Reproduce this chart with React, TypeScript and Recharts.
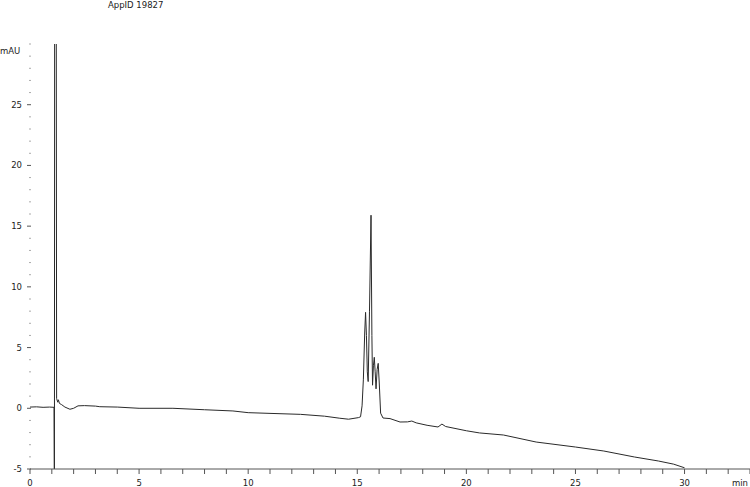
import React from 'react';
import { LineChart, Line, XAxis, YAxis } from 'recharts';

const title = 'AppID 19827';
const yUnit = 'mAU';
const xUnit = 'min';

const times = [
  0.0, 0.3, 0.6, 0.9, 1.1, 1.12, 1.13, 1.2, 1.22, 1.27, 1.3, 1.35, 1.45, 1.6, 1.83, 2.0, 2.2, 2.5, 3.0, 3.2,
  4.0, 5.0, 6.55, 8.0, 9.3, 10.0, 11.0, 12.4, 13.5, 14.2, 14.6, 15.05, 15.15, 15.22, 15.28, 15.34, 15.38,
  15.42, 15.46, 15.5, 15.56, 15.63, 15.67, 15.7, 15.74, 15.78, 15.82, 15.86, 15.91, 15.96, 16.01, 16.07,
  16.18, 16.5, 16.96, 17.3, 17.5, 17.7, 18.2, 18.7, 18.88, 19.05, 20.0, 20.6, 21.7, 23.2, 25.0, 26.3,
  27.7, 28.8, 29.5, 30.0,
];

const mAU = [
  0.1, 0.12, 0.08, 0.1, 0.08, -8, 40, 40, 0.8, 0.5, 0.7, 0.4, 0.3, 0.1, -0.08, 0.0, 0.2, 0.22, 0.18, 0.13,
  0.1, 0.0, 0.0, -0.12, -0.22, -0.36, -0.42, -0.5, -0.65, -0.82, -0.9, -0.77, -0.7, 0.2, 2.4, 6.2, 7.9,
  6.0, 3.0, 2.2, 8.0, 15.9, 6.0, 1.9, 3.5, 4.2, 3.0, 1.6, 3.2, 3.7, 2.0, -0.4,
  -0.8, -0.85, -1.13, -1.12, -1.05, -1.2, -1.4, -1.54, -1.3, -1.5, -1.85, -2.03, -2.2, -2.78, -3.19, -3.52,
  -4.01, -4.34, -4.6, -4.9,
];

const xTicks = Array.from({ length: 34 }, (_, i) => i);
const xLabels = [0, 5, 10, 15, 20, 25, 30];
const yTicks = Array.from({ length: 36 }, (_, i) => i - 5);
const yLabels = [-5, 0, 5, 10, 15, 20, 25];

const data = times.map((t, i) => ({ t, v: mAU[i] }));

const FONT = 'DejaVu Sans';

const YTick = (props: any) => {
  const { x, y, payload } = props;
  const val = payload.value;
  const major = yLabels.includes(val);
  return (
    <g>
      <line
        x1={major ? x - 3 : x - 1}
        x2={x + 1}
        y1={y}
        y2={y}
        stroke={major ? '#555' : '#aaa'}
        strokeWidth={1}
      />
      {major && (
        <text x={x - 8} y={y + 3} textAnchor="end" fontFamily={FONT} fontSize={8.5} fill="#222">
          {val}
        </text>
      )}
    </g>
  );
};

const XTick = (props: any) => {
  const { x, y, payload } = props;
  const val = payload.value;
  const major = xLabels.includes(val);
  return (
    <g>
      <line x1={x} x2={x} y1={y} y2={y + 5} stroke="#555" strokeWidth={1} />
      {major && (
        <text x={x} y={y + 17} textAnchor="middle" fontFamily={FONT} fontSize={8.5} fill="#222">
          {val}
        </text>
      )}
    </g>
  );
};

export default function App() {
  return (
    <div style={{ position: 'absolute', left: 0, top: 0, width: 750, height: 487, background: '#fff' }}>
      <LineChart width={750} height={487} data={data} margin={{ top: 44, right: 0, bottom: 0, left: 0 }}>
        <XAxis
          dataKey="t"
          type="number"
          domain={[0, 33]}
          ticks={xTicks}
          interval={0}
          height={18}
          tickSize={0}
          tickMargin={0}
          tick={<XTick />}
          axisLine={{ stroke: '#555' }}
          tickLine={false}
          allowDataOverflow
        />
        <YAxis
          type="number"
          domain={[-5, 30]}
          ticks={yTicks}
          interval={0}
          width={30}
          tickSize={0}
          tickMargin={0}
          tick={<YTick />}
          axisLine={false}
          tickLine={false}
          allowDataOverflow
        />
        <Line
          type="linear"
          dataKey="v"
          stroke="#2a2a2a"
          strokeWidth={1}
          dot={false}
          activeDot={false}
          isAnimationActive={false}
        />
      </LineChart>
      <svg
        width={750}
        height={487}
        style={{ position: 'absolute', left: 0, top: 0, pointerEvents: 'none' }}
      >
        <text x={108} y={8} fontFamily={FONT} fontSize={8.5} fill="#222">
          {title}
        </text>
        <text x={0} y={54} fontFamily={FONT} fontSize={8.5} fill="#222">
          {yUnit}
        </text>
        <text x={748} y={486} textAnchor="end" fontFamily={FONT} fontSize={8.5} fill="#222">
          {xUnit}
        </text>
      </svg>
    </div>
  );
}
